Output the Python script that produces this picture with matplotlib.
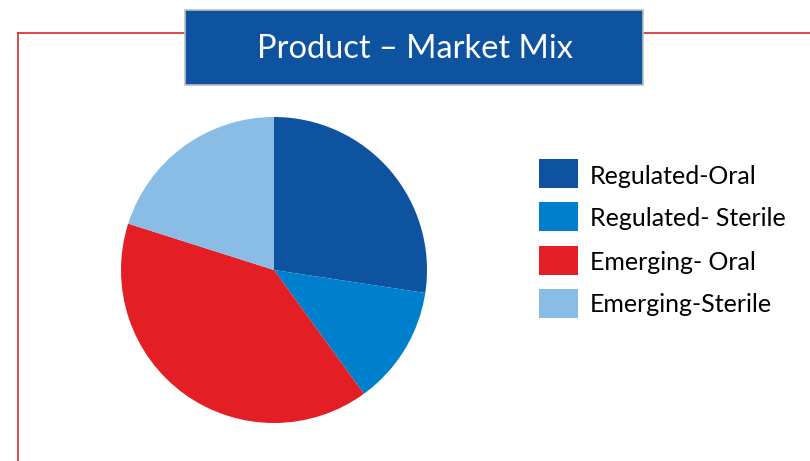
import matplotlib.pyplot as plt
from matplotlib.patches import Rectangle

plt.rcParams['font.family'] = ['Lato', 'DejaVu Sans']

# data (share of the mix, %)
labels = ['Regulated-Oral', 'Regulated- Sterile', 'Emerging- Oral', 'Emerging-Sterile']
shares = [27.4, 12.6, 39.9, 20.1]
colors = ['#0D53A0', '#0080CC', '#E31E24', '#8ABDE5']
title = 'Product \u2013 Market Mix'

W, H = 810, 461
fig = plt.figure(figsize=(W / 100, H / 100), dpi=100)
ax = fig.add_axes([0, 0, 1, 1])

# pie, center/radius in pixel units (y measured from bottom)
ax.pie(shares, colors=colors, startangle=90, counterclock=False,
       center=(274, H - 270), radius=153, wedgeprops=dict(linewidth=0))

# red frame
red = '#D9383A'
ax.plot([18, 18], [0, H - 33], color=red, lw=1.3)
ax.plot([18, 185], [H - 33, H - 33], color=red, lw=1.3)
ax.plot([643, W], [H - 33, H - 33], color=red, lw=1.3)

# title box
ax.add_patch(Rectangle((185, H - 85), 458, 75, facecolor='#0D53A0',
                       edgecolor='#BFBFBF', lw=1.2, zorder=3))
ax.text(415, H - 49, title, color='white', fontsize=23.5,
        ha='center', va='center', zorder=4)

# legend
for i, (lab, c) in enumerate(zip(labels, colors)):
    yc = H - (174 + i * 43)
    ax.add_patch(Rectangle((539, yc - 14.5), 39, 29, facecolor=c, lw=0))
    ax.text(590, yc - 2, lab, fontsize=18, ha='left', va='center')

ax.set_xlim(0, W)
ax.set_ylim(0, H)
ax.set_aspect('auto')
ax.axis('off')

fig.savefig('out.png', dpi=100)
